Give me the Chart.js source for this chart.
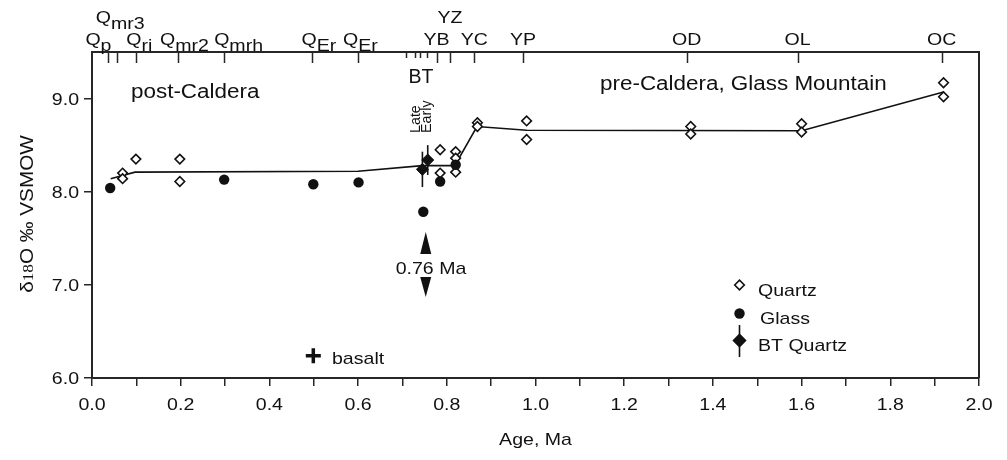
<!DOCTYPE html>
<html>
<head>
<meta charset="utf-8">
<script src="https://cdn.jsdelivr.net/npm/chart.js@4/dist/chart.umd.min.js"></script>
<style>
  html, body { margin: 0; padding: 0; background: #fff; }
  #wrap { width: 1007px; height: 460px; }
</style>
</head>
<body>
<div id="wrap"><canvas id="chart" width="1007" height="460"></canvas></div>
<script>
// Oxygen isotope composition vs age, post-Caldera and pre-Caldera (Glass Mountain) units.

// ----- Data (ages in Ma, delta-18O in permil VSMOW) -----
const quartzAge = [0.069, 0.069, 0.099, 0.198, 0.198, 0.785, 0.785, 0.82, 0.82, 0.82,
                   0.869, 0.869, 0.98, 0.98, 1.35, 1.35, 1.60, 1.60, 1.92, 1.92];
const quartzD18O = [8.20, 8.14, 8.35, 8.35, 8.11, 8.45, 8.20, 8.43, 8.36, 8.21,
                    8.74, 8.70, 8.76, 8.56, 8.70, 8.62, 8.73, 8.64, 9.17, 9.02];

const glassAge = [0.041, 0.298, 0.499, 0.601, 0.747, 0.785, 0.82];
const glassD18O = [8.04, 8.13, 8.08, 8.10, 7.785, 8.11, 8.29];

const btAge = [0.745, 0.757];          // Late, Early Bishop Tuff
const btD18O = [8.24, 8.34];
const btErr = [0.19, 0.16];

const basaltAge = [0.499];
const basaltD18O = [6.24];

const trendAge = [0.042, 0.097, 0.60, 0.745, 0.818, 0.868, 0.98, 1.60, 1.92];
const trendD18O = [8.14, 8.21, 8.22, 8.28, 8.28, 8.70, 8.66, 8.655, 9.07];

// Units marked along the top axis
const unitTickAge = [0.037, 0.056, 0.10, 0.195, 0.298, 0.497, 0.60,
                     0.709, 0.728, 0.740, 0.755,
                     0.777, 0.807, 0.862, 0.972, 1.341, 1.591, 1.916];
const unitName = ['Q', 'Q', 'Q', 'Q', 'Q', 'Q', 'Q', 'YB', 'YZ', 'YC', 'YP', 'OD', 'OL', 'OC'];
const unitSub = ['p', 'mr3', 'ri', 'mr2', 'mrh', 'Er', 'Er', '', '', '', '', '', '', ''];
const unitAge = [0.037, 0.056, 0.10, 0.195, 0.298, 0.497, 0.60, 0.777, 0.807, 0.862, 0.972, 1.341, 1.591, 1.916];
const btTickAge = [0.709, 0.728, 0.740, 0.755];
const btLabelAge = 0.742;
const markerAge = 0.757; // "0.76 Ma" arrows

// ----- Style -----
const INK = '#111';
const AXIS = '#262626';
const SX = 1.15; // the figure's font is set wider than Liberation Sans
const FONT = '"Liberation Sans", Arial, Helvetica, sans-serif';

// label layout for the unit names: [dx from tick (null = centred), row]
const unitLayout = [[-23, 1], [-21, 2], [-10, 1], [-18.5, 1], [-10, 1], [-11, 1], [-15, 1],
                    [null, 1], [null, 2], [null, 1], [null, 1], [null, 1], [null, 1], [null, 1]];

function pts(xs, ys) { return xs.map(function (x, i) { return { x: x, y: ys[i] }; }); }

function txt(ctx, s, x, y, size, o) {
  o = o || {};
  ctx.save();
  ctx.translate(x, y);
  if (o.rot) { ctx.rotate(o.rot); }
  ctx.scale(o.sx === undefined ? SX : o.sx, 1);
  ctx.font = size + 'px ' + (o.family || FONT);
  ctx.textAlign = o.align || 'left';
  ctx.textBaseline = o.base || 'alphabetic';
  ctx.fillStyle = INK;
  ctx.fillText(s, 0, 0);
  ctx.restore();
}
function tw(ctx, s, size, sx) {
  ctx.save();
  ctx.font = size + 'px ' + FONT;
  const w = ctx.measureText(s).width * (sx === undefined ? SX : sx);
  ctx.restore();
  return w;
}
function diamond(ctx, x, y, r, fill) {
  ctx.beginPath();
  ctx.moveTo(x - r, y); ctx.lineTo(x, y - r); ctx.lineTo(x + r, y); ctx.lineTo(x, y + r);
  ctx.closePath();
  ctx.fillStyle = fill; ctx.fill();
  ctx.lineWidth = 1.6; ctx.strokeStyle = INK; ctx.stroke();
}

const decor = {
  id: 'decor',
  beforeDatasetsDraw: function (chart) {
    const ctx = chart.ctx, xs = chart.scales.x, ys = chart.scales.y;
    ctx.save();
    ctx.strokeStyle = INK; ctx.lineWidth = 1.6;
    btAge.forEach(function (a, i) {
      const px = xs.getPixelForValue(a);
      ctx.beginPath();
      ctx.moveTo(px, ys.getPixelForValue(btD18O[i] + btErr[i]));
      ctx.lineTo(px, ys.getPixelForValue(btD18O[i] - btErr[i]));
      ctx.stroke();
    });
    ctx.restore();
  },
  afterDraw: function (chart) {
    const ctx = chart.ctx, xs = chart.scales.x, ys = chart.scales.y, ca = chart.chartArea;
    ctx.save();
    // top and right frame
    ctx.strokeStyle = AXIS; ctx.lineWidth = 2;
    ctx.beginPath();
    ctx.moveTo(ca.left, ca.top); ctx.lineTo(ca.right, ca.top); ctx.lineTo(ca.right, ca.bottom);
    ctx.stroke();
    // top unit ticks
    ctx.lineWidth = 1.5;
    unitTickAge.forEach(function (a) {
      const px = Math.round(xs.getPixelForValue(a)) + 0.5;
      const len = btTickAge.indexOf(a) >= 0 ? 5 : 10;
      ctx.beginPath(); ctx.moveTo(px, ca.top + 1); ctx.lineTo(px, ca.top + 1 + len); ctx.stroke();
    });
    // unit names
    unitName.forEach(function (n, i) {
      const px = xs.getPixelForValue(unitAge[i]);
      const lay = unitLayout[i];
      const base = lay[1] === 1 ? 45 : 23;
      const wn = tw(ctx, n, 17), ws = tw(ctx, unitSub[i], 17);
      const left = lay[0] === null ? px - (wn + ws) / 2 : px + lay[0];
      txt(ctx, n, left, base, 17);
      if (unitSub[i]) { txt(ctx, unitSub[i], left + wn, base + 5.5, 17); }
    });
    txt(ctx, 'BT', xs.getPixelForValue(btLabelAge), 83, 19.5, { align: 'center', sx: 1.0 });
    txt(ctx, 'Late', 420, 133, 14, { rot: -Math.PI / 2, sx: 1.02 });
    txt(ctx, 'Early', 431, 133, 14, { rot: -Math.PI / 2, sx: 1.02 });

    // tick labels
    xs.ticks.forEach(function (t) {
      if (Math.round(t.value * 10) % 2 !== 0) { return; }
      txt(ctx, t.value.toFixed(1), xs.getPixelForValue(t.value), 409.5, 17, { align: 'center' });
    });
    ys.ticks.forEach(function (t) {
      txt(ctx, t.value.toFixed(1), 79, ys.getPixelForValue(t.value) + 6, 17, { align: 'right' });
    });
    // axis titles
    txt(ctx, 'Age, Ma', (ca.left + ca.right) / 2, 445, 17, { align: 'center' });
    ctx.save();
    ctx.translate(33, 214); ctx.rotate(-Math.PI / 2); ctx.scale(SX, 1);
    ctx.font = '18px ' + FONT;
    const p1 = 'δ', p2 = '18', p3 = 'O ‰ VSMOW';
    const w1 = ctx.measureText(p1).width, w3 = ctx.measureText(p3).width;
    ctx.font = '15px "Liberation Serif", serif';
    const w2 = ctx.measureText(p2).width;
    let cx = -(w1 + w2 + w3) / 2;
    ctx.fillStyle = INK; ctx.textBaseline = 'alphabetic';
    ctx.font = '18px ' + FONT; ctx.fillText(p1, cx, 0); cx += w1;
    ctx.font = '15px "Liberation Serif", serif'; ctx.fillText(p2, cx, 0); cx += w2;
    ctx.font = '18px ' + FONT; ctx.fillText(p3, cx, 0);
    ctx.restore();

    // region annotations
    txt(ctx, 'post-Caldera', 131, 98, 19.5);
    txt(ctx, 'pre-Caldera, Glass Mountain', 600, 90, 19.5);
    txt(ctx, 'basalt', 332, 364, 17);

    // 0.76 Ma arrows
    const ax = xs.getPixelForValue(markerAge) - 2;
    ctx.fillStyle = INK;
    ctx.beginPath(); ctx.moveTo(ax, 232); ctx.lineTo(ax + 5.5, 254); ctx.lineTo(ax - 5.5, 254); ctx.closePath(); ctx.fill();
    ctx.beginPath(); ctx.moveTo(ax, 297); ctx.lineTo(ax + 5.5, 277); ctx.lineTo(ax - 5.5, 277); ctx.closePath(); ctx.fill();
    txt(ctx, '0.76 Ma', 431, 273.5, 17, { align: 'center' });

    // legend
    diamond(ctx, 739.5, 285, 4.8, '#fff');
    txt(ctx, 'Quartz', 758, 296, 17);
    ctx.beginPath(); ctx.arc(739.5, 313.5, 5.2, 0, Math.PI * 2); ctx.fillStyle = INK; ctx.fill();
    txt(ctx, 'Glass', 760, 323.5, 17);
    ctx.strokeStyle = INK; ctx.lineWidth = 1.6;
    ctx.beginPath(); ctx.moveTo(739.5, 325); ctx.lineTo(739.5, 357); ctx.stroke();
    diamond(ctx, 739.5, 340.5, 6, INK);
    txt(ctx, 'BT Quartz', 758, 351, 17);
    ctx.restore();
  }
};

new Chart(document.getElementById('chart').getContext('2d'), {
  type: 'scatter',
  data: {
    datasets: [
      { label: 'trend', type: 'line', data: pts(trendAge, trendD18O), borderColor: INK,
        borderWidth: 1.6, pointRadius: 0, tension: 0, fill: false, order: 9 },
      { label: 'Quartz', data: pts(quartzAge, quartzD18O), pointStyle: 'rectRot', pointRadius: 4.8,
        backgroundColor: '#fff', borderColor: INK, borderWidth: 1.6, order: 4 },
      { label: 'Glass', data: pts(glassAge, glassD18O), pointStyle: 'circle', pointRadius: 5.2,
        backgroundColor: INK, borderColor: INK, borderWidth: 0, order: 3 },
      { label: 'BT Quartz', data: pts(btAge, btD18O), pointStyle: 'rectRot', pointRadius: 6,
        backgroundColor: INK, borderColor: INK, borderWidth: 1, order: 2 },
      { label: 'basalt', data: pts(basaltAge, basaltD18O), pointStyle: 'cross', pointRadius: 7.5,
        borderColor: INK, borderWidth: 3.5, order: 1 }
    ]
  },
  plugins: [decor],
  options: {
    responsive: false,
    animation: false,
    devicePixelRatio: 1,
    events: [],
    layout: { padding: { top: 52, right: 28, left: 0, bottom: 0 } },
    plugins: { legend: { display: false }, tooltip: { enabled: false } },
    scales: {
      x: {
        type: 'linear', min: 0, max: 2,
        afterFit: function (s) { s.height = 82; },
        ticks: { stepSize: 0.1, display: false, includeBounds: false, autoSkip: false },
        grid: { drawOnChartArea: false, drawTicks: true, tickLength: 8, color: AXIS, lineWidth: 1.5 },
        border: { color: AXIS, width: 2 }
      },
      y: {
        type: 'linear', min: 6, max: 9.5,
        afterFit: function (s) { s.width = 92; },
        ticks: { stepSize: 1, display: false, includeBounds: false },
        grid: { drawOnChartArea: false, drawTicks: true, tickLength: 8, color: AXIS, lineWidth: 1.5 },
        border: { color: AXIS, width: 2 }
      }
    }
  }
});
</script>
</body>
</html>
